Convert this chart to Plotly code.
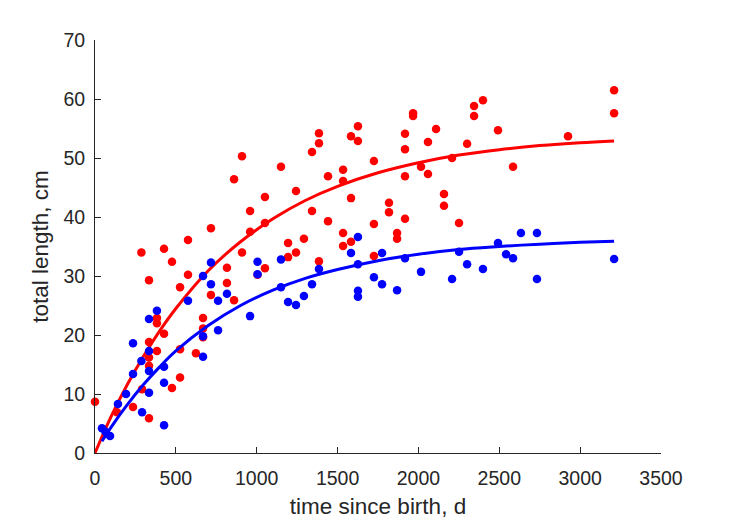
import plotly.graph_objects as go

# ---- data ----
red_t = [0, 136, 235, 287, 291, 334, 334, 334, 334, 334, 383, 383, 383, 427, 427, 476, 476,
         526, 526, 526, 575, 575, 624, 668, 668, 668, 717, 717, 816, 816, 860, 860, 909, 909,
         959, 959, 1005, 1051, 1051, 1051, 1150, 1194, 1194, 1243, 1243, 1292, 1342, 1342,
         1385, 1385, 1385, 1441, 1441, 1534, 1534, 1534, 1534, 1583, 1583, 1583, 1626, 1626,
         1725, 1725, 1725, 1818, 1818, 1868, 1868, 1917, 1917, 1917, 1917, 1967, 1967, 2016,
         2059, 2059, 2109, 2158, 2158, 2208, 2251, 2301, 2344, 2344, 2399, 2492, 2585, 2925,
         3210, 3210]
red_len = [8.7, 6.9, 7.8, 34.0, 10.8, 29.3, 18.8, 16.2, 14.8, 5.9, 22.9, 22.0, 17.3, 20.2, 34.6,
           11.0, 32.4, 28.1, 17.6, 12.8, 36.1, 30.2, 16.9, 22.9, 21.1, 19.6, 38.1, 26.8, 31.4,
           28.8, 46.4, 25.9, 50.3, 34.0, 41.0, 37.5, 30.2, 43.4, 39.0, 31.3, 48.5, 35.6, 33.2,
           44.4, 34.0, 36.3, 51.0, 41.0, 54.2, 52.5, 32.5, 46.9, 39.3, 48.0, 46.1, 37.3, 35.1,
           53.7, 43.2, 35.8, 55.4, 52.9, 49.5, 38.8, 33.4, 42.4, 40.8, 37.3, 36.3, 54.1, 51.5,
           46.9, 39.7, 57.6, 57.1, 48.5, 52.7, 47.3, 54.9, 43.9, 41.9, 50.0, 39.0, 52.4, 58.8,
           57.1, 59.8, 54.7, 48.5, 53.7, 61.5, 57.6]

blue_t = [43, 65, 93, 142, 192, 235, 235, 287, 291, 334, 334, 334, 334, 383, 427, 427, 427, 575,
          668, 668, 668, 717, 717, 761, 761, 816, 959, 1005, 1005, 1150, 1150, 1194, 1243, 1292,
          1342, 1385, 1583, 1626, 1626, 1626, 1626, 1725, 1775, 1775, 1868, 1917, 2016, 2208,
          2251, 2301, 2399, 2492, 2542, 2585, 2634, 2733, 2733, 3210]
blue_len = [4.2, 3.6, 2.9, 8.3, 10.0, 18.6, 13.4, 15.6, 6.9, 22.7, 17.3, 13.9, 10.2, 24.1, 14.6,
            11.9, 4.7, 25.8, 30.0, 19.8, 16.3, 32.3, 28.6, 25.8, 20.8, 27.0, 23.2, 32.4, 30.3,
            32.8, 28.1, 25.6, 25.1, 26.6, 28.6, 31.2, 33.9, 36.6, 32.0, 27.5, 26.5, 29.8, 33.9,
            28.6, 27.6, 33.0, 30.7, 29.5, 34.1, 32.0, 31.2, 35.6, 33.7, 33.0, 37.3, 37.3, 29.5,
            32.9]

# fitted growth curves
red_curve_t = [0, 100, 200, 300, 400, 500, 700, 900, 1100, 1300, 1500, 1750, 2000, 2250, 2500,
               2750, 3000, 3210]
red_curve_len = [0, 6.2, 11.6, 16.4, 20.7, 24.5, 30.9, 35.8, 39.7, 42.8, 45.2, 47.5, 49.2, 50.5,
                 51.4, 52.1, 52.6, 52.9]
blue_curve_t = [43, 100, 200, 300, 400, 500, 700, 900, 1100, 1300, 1500, 1750, 2000, 2250, 2500,
                2750, 3000, 3210]
blue_curve_len = [2.0, 4.4, 8.2, 11.6, 14.6, 17.3, 21.6, 25.0, 27.6, 29.6, 31.1, 32.6, 33.7, 34.5,
                  35.0, 35.4, 35.7, 35.9]

x_ticks = [0, 500, 1000, 1500, 2000, 2500, 3000, 3500]
y_ticks = [0, 10, 20, 30, 40, 50, 60, 70]

RED = "#FF0000"
BLUE = "#0000FF"
AX = "#262626"

fig = go.Figure()
fig.add_trace(go.Scatter(x=red_t, y=red_len, mode="markers", cliponaxis=False,
                         marker=dict(color=RED, size=8.5, line=dict(width=0))))
fig.add_trace(go.Scatter(x=red_curve_t, y=red_curve_len, mode="lines", cliponaxis=False,
                         line=dict(color=RED, width=3, shape="spline")))
fig.add_trace(go.Scatter(x=blue_t, y=blue_len, mode="markers", cliponaxis=False,
                         marker=dict(color=BLUE, size=8.5, line=dict(width=0))))
fig.add_trace(go.Scatter(x=blue_curve_t, y=blue_curve_len, mode="lines", cliponaxis=False,
                         line=dict(color=BLUE, width=3, shape="spline")))

font_family = "Liberation Sans, Arial, sans-serif"
fig.update_layout(
    width=729, height=521,
    margin=dict(l=95, r=68, t=40, b=68),
    paper_bgcolor="white", plot_bgcolor="white",
    showlegend=False,
    font=dict(family=font_family, color=AX, size=19.5),
    xaxis=dict(range=[0, 3500], tickvals=x_ticks, ticktext=[str(v) for v in x_ticks],
               showline=True, linecolor=AX, linewidth=1, ticks="inside", ticklen=6,
               tickcolor=AX, showgrid=False, zeroline=False, mirror=False, automargin=False,
               tickfont=dict(size=19.5, color=AX), ticklabelstandoff=8,
               title=dict(text="time since birth, d", font=dict(size=22.5, color=AX), standoff=9)),
    yaxis=dict(range=[0, 70], tickvals=y_ticks, ticktext=[str(v) for v in y_ticks],
               showline=True, linecolor=AX, linewidth=1, ticks="inside", ticklen=6,
               tickcolor=AX, showgrid=False, zeroline=False, mirror=False, automargin=False,
               tickfont=dict(size=19.5, color=AX), ticklabelstandoff=5,
               title=dict(text="total length, cm", font=dict(size=22.5, color=AX), standoff=8)),
)

fig.write_html("out.html")
